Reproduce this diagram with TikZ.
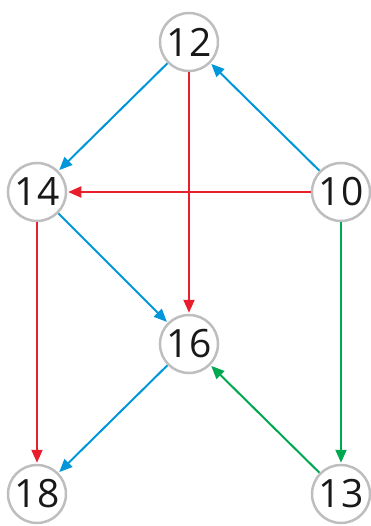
\documentclass[tikz,border=0pt]{standalone}
\usepackage{fontspec}
\setmainfont{Open Sans}
\usetikzlibrary{arrows.meta}
\definecolor{cblue}{RGB}{0,150,218}
\definecolor{cred}{RGB}{232,30,45}
\definecolor{cgreen}{RGB}{0,168,80}
\definecolor{cgray}{RGB}{190,190,192}
\begin{document}
\begin{tikzpicture}[x=1pt,y=-1pt,
  num/.style={circle,draw=cgray,line width=2.5pt,fill=white,minimum size=58pt,inner sep=0pt,font=\fontsize{39}{39}\selectfont,text=black!90},
  conn/.style={line width=2pt,-{Triangle[length=13pt,width=11pt]},shorten >=1pt}]
\useasboundingbox (0,0) rectangle (370,526);
\node[num] (n12) at (189,42) {12};
\node[num] (n14) at (37,192) {14};
\node[num] (n10) at (341,192) {10};
\node[num] (n16) at (189,344) {16};
\node[num] (n18) at (37,494) {18};
\node[num] (n13) at (341,494) {13};
\draw[conn,cblue] (n12) -- (n14);
\draw[conn,cred] (n12) -- (n16);
\draw[conn,cblue] (n10) -- (n12);
\draw[conn,cred] (n10) -- (n14);
\draw[conn,cblue] (n14) -- (n16);
\draw[conn,cred] (n14) -- (n18);
\draw[conn,cgreen] (n10) -- (n13);
\draw[conn,cblue] (n16) -- (n18);
\draw[conn,cgreen] (n13) -- (n16);
\end{tikzpicture}
\end{document}
